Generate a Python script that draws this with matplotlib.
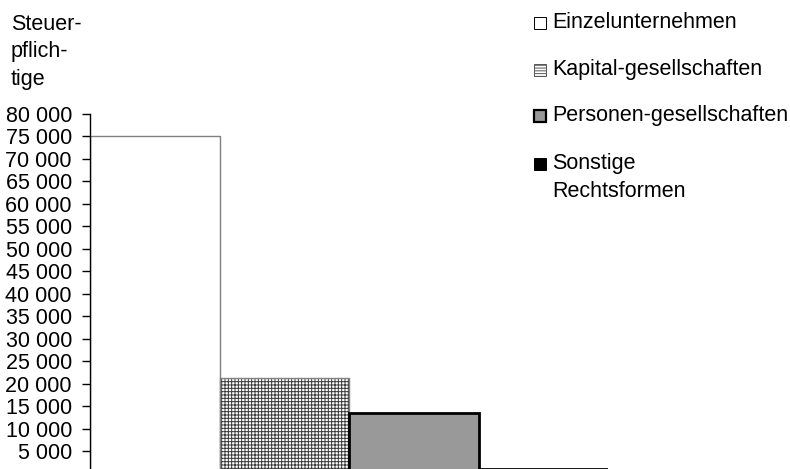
import matplotlib
matplotlib.use('Agg')
from matplotlib.pyplot import *
from matplotlib.patches import Rectangle

rcParams['font.family'] = ['Liberation Sans', 'DejaVu Sans']
rcParams['font.size'] = 15.5
rcParams['hatch.linewidth'] = 0.7

categories = ['Einzelunternehmen', 'Kapital-gesellschaften', 'Personen-gesellschaften', 'Sonstige\nRechtsformen']
values = [75000, 21300, 13400, 1100]
yticks_vals = list(range(5000, 80001, 5000))
ytick_labels = [f'{v:,}'.replace(',', ' ') for v in yticks_vals]

W, H = 790, 469
fig = figure(figsize=(W/100, H/100), dpi=100)
ax = fig.add_axes([90/W, -4.5/H, 518/W, 359.5/H])

styles = [
  dict(facecolor='white', edgecolor='#808080', linewidth=1.0),
  dict(facecolor='white', edgecolor='#808080', linewidth=1.0),
  dict(facecolor='#999999', edgecolor='black', linewidth=2.0),
  dict(facecolor='black', edgecolor='black', linewidth=2.0),
]
for i, (v, st) in enumerate(zip(values, styles)):
  if i == 1:
    # dense dark grid under a gray outline
    ax.bar(i, v, width=1.0, align='edge', facecolor='white', edgecolor='#3a3a3a',
           linewidth=0, hatch='+++++')
    ax.bar(i, v, width=1.0, align='edge', fill=False, edgecolor='#808080', linewidth=1.0)
  else:
    ax.bar(i, v, width=1.0, align='edge', **st)

ax.set_xlim(0, 4)
ax.set_ylim(0, 80000)
ax.set_yticks(yticks_vals)
ax.set_yticklabels(ytick_labels)
ax.set_xticks([])
for s in ['top', 'right', 'bottom']:
  ax.spines[s].set_visible(False)
ax.spines['left'].set_linewidth(1.0)
ax.tick_params(axis='y', direction='out', length=6, width=1.0, pad=7)

# y axis title, one word split over three lines
for k, part in enumerate(['Steuer-', 'pflich-', 'tige']):
  fig.text(11/W, 1 - (24 + 28*k)/H, part, ha='left', va='center')

# legend, drawn by hand so the last entry can wrap
leg_styles = [
  dict(facecolor='white', edgecolor='black', linewidth=0.7),
  dict(facecolor='white', edgecolor='#555555', linewidth=0.7, hatch='------'),
  dict(facecolor='#999999', edgecolor='black', linewidth=1.6),
  dict(facecolor='black', edgecolor='black', linewidth=0.7),
]
leg_y = [23, 70, 116, 164]
for lab, st, yc in zip(categories, leg_styles, leg_y):
  fig.add_artist(Rectangle((534/W, 1 - (yc + 6)/H), 12/W, 12/H, transform=fig.transFigure, **st))
  fig.text(552/W, 1 - yc/H, lab, ha='left', va='top' if '\n' in lab else 'center',
           linespacing=1.45)
fig.texts[-1].set_y(1 - (yc - 11)/H)

fig.savefig('out.png', dpi=100)
